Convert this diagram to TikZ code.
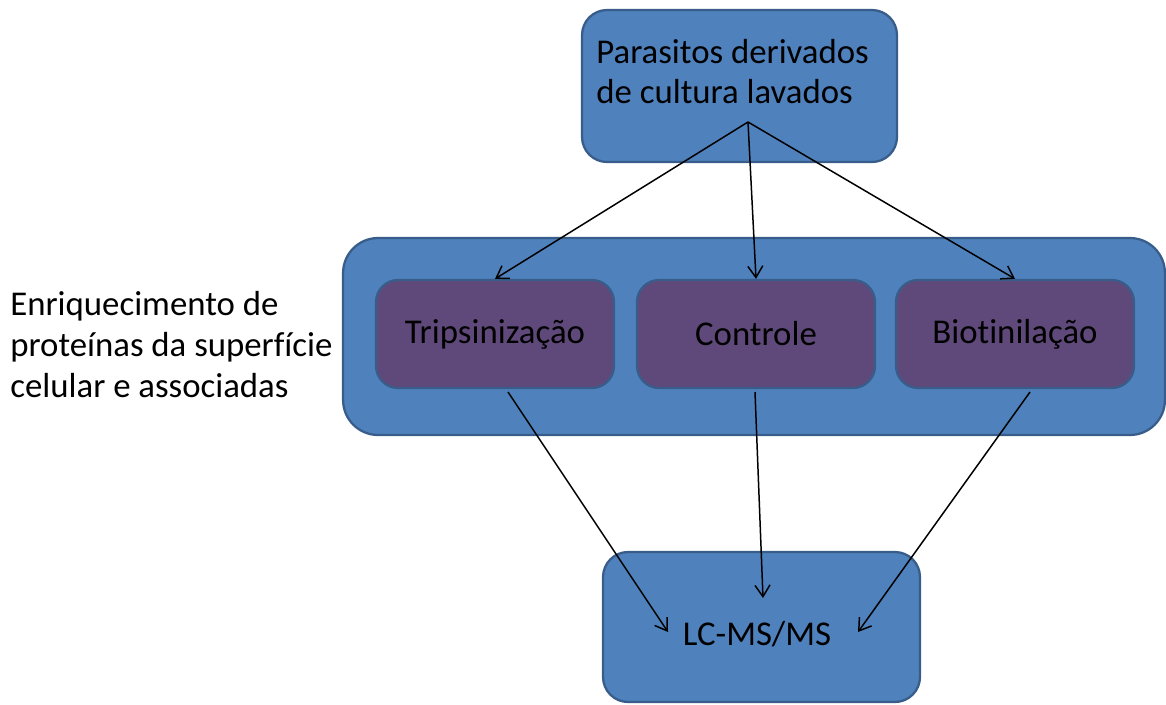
\documentclass[tikz,border=0pt]{standalone}
\usepackage{fontspec}
\setmainfont[Ligatures=NoCommon]{Carlito}
\usetikzlibrary{arrows.meta}
\definecolor{boxblue}{HTML}{4F81BD}
\definecolor{boxline}{HTML}{385D8A}
\definecolor{boxpurple}{HTML}{5F497A}
\tikzset{
	bluebox/.style={draw=boxline, fill=boxblue, line width=1.3pt, rounded corners=0.5cm},
	purplebox/.style={draw=boxline, fill=boxpurple, line width=1.3pt, rounded corners=0.44cm,
		minimum width=4.76cm, minimum height=2.16cm},
	flow/.style={-{Straight Barb[length=2.3mm,width=3mm]}, line width=0.85pt},
}

\begin{document}
\begin{tikzpicture}[x=0.02cm, y=-0.02cm, font=\fontsize{19.8pt}{22.8pt}\selectfont]
\useasboundingbox (0,0) rectangle (1166,704);

\node[bluebox, minimum width=6.3cm, minimum height=3.04cm] (parasitos) at (739.5,86) {};
\node[anchor=north west, inner sep=0pt, align=left] (parasitosTxt) at (596,39)
	{Parasitos derivados\\de cultura lavados};

\node[bluebox, rounded corners=0.7cm, minimum width=16.44cm, minimum height=3.94cm] (enriq) at (754,336.5) {};
\node[anchor=north west, inner sep=0pt, align=left, font=\fontsize{19.8pt}{23.3pt}\selectfont] (enriqTxt) at (10,291)
	{Enriquecimento de\\proteínas da superfície\\celular e associadas};

\node[purplebox] (tripsin) at (495,334) {Tripsinização};
\node[purplebox] (controle) at (756,334) {Controle};
\node[purplebox] (biotin) at (1015,334) {Biotinilação};

\node[bluebox, minimum width=6.34cm, minimum height=3.0cm] (lcms) at (761.5,627) {};
\node (lcmsTxt) at (757,634) {LC-MS/MS};

\coordinate (fork) at (748,122);
\coordinate (tripsinOut) at (508,392);
\coordinate (controleOut) at (755,392);
\coordinate (biotinOut) at (1030,392);
\coordinate (lcmsLeft) at (668,632);
\coordinate (lcmsMid) at (763,598);
\coordinate (lcmsRight) at (858,632);

\draw[flow] (fork) -- (tripsin.north);
\draw[flow] (fork) -- (controle.north);
\draw[flow] (fork) -- (biotin.north);
\draw[flow] (tripsinOut) -- (lcmsLeft);
\draw[flow] (controleOut) -- (lcmsMid);
\draw[flow] (biotinOut) -- (lcmsRight);
\end{tikzpicture}
\end{document}
